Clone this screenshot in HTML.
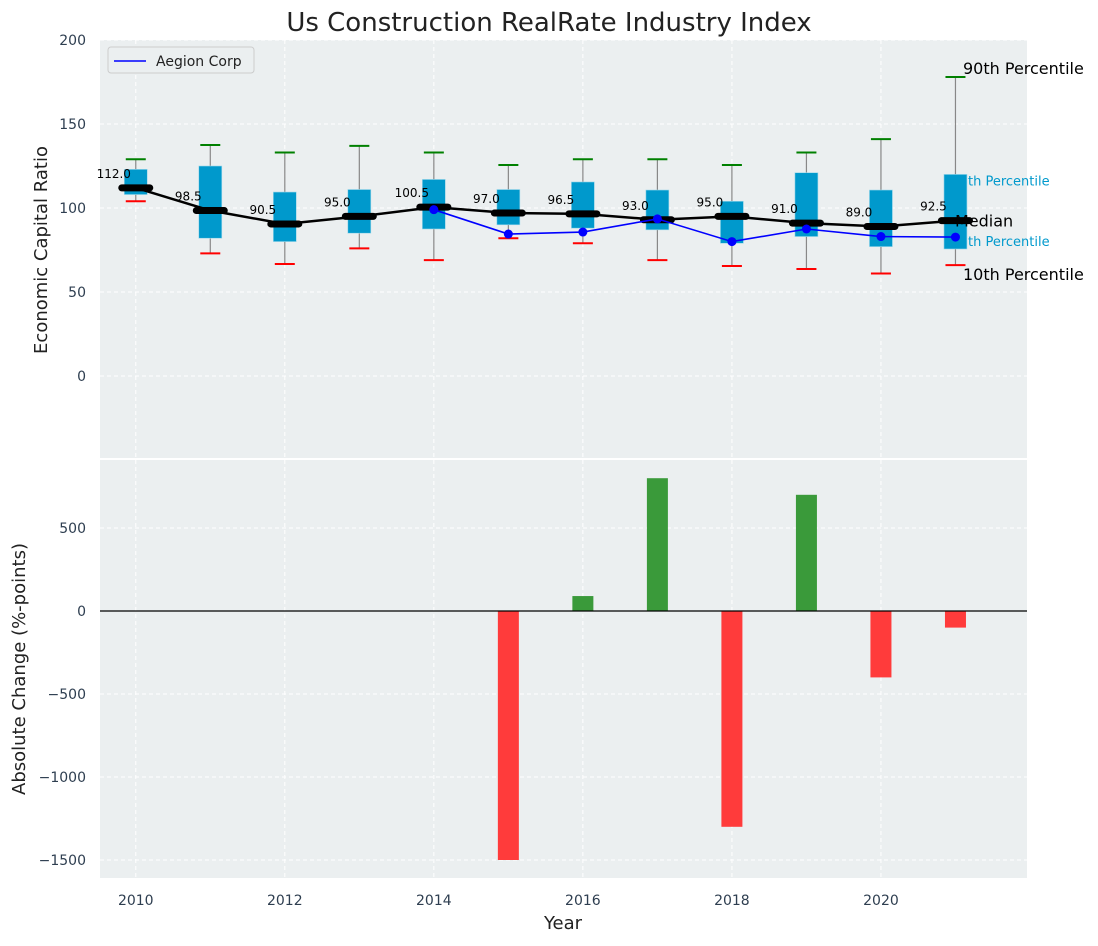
<!DOCTYPE html>
<html><head><meta charset="utf-8"><style>
body{margin:0;background:#fff;font-family:"DejaVu Sans","Liberation Sans",sans-serif;}
svg text{font-family:"DejaVu Sans","Liberation Sans",sans-serif;}
</style></head><body>
<svg id="c" width="1098" height="942" xmlns="http://www.w3.org/2000/svg"></svg>
<script>
const years=[2010,2011,2012,2013,2014,2015,2016,2017,2018,2019,2020,2021];
const p90=[129,137.5,133,137,133,125.6,129,129,125.6,133,141,178];
const q3=[123,125,109.5,111,117,111,115.5,110.7,104,121,110.7,120];
const medians=[112,98.5,90.5,95,100.5,97,96.5,93,95,91,89,92.5];
const q1=[108,82,80,85,87.5,90,88,87,79,83,77,75.6];
const p10=[104,73,66.7,76,69,82,79,69,65.5,63.7,61,66];
const aegionYears=[2014,2015,2016,2017,2018,2019,2020,2021];
const aegion=[99,84.5,85.7,93.5,80,87.5,83,82.7];
const changes=[0,0,0,0,0,-1500,90,800,-1300,700,-400,-100];
const topTicks=[0,50,100,150,200];
const botTicks=[-1500,-1000,-500,0,500];
const xTicks=[2010,2012,2014,2016,2018,2020];

const NS="http://www.w3.org/2000/svg";
const svg=document.getElementById('c');
function el(t,a,p){const e=document.createElementNS(NS,t);for(const k in a)e.setAttribute(k,a[k]);(p||svg).appendChild(e);return e;}
const L=100,R=1027;
const x=v=>L+(v-2009.52)*(R-L)/(2021.96-2009.52);
const yT=v=>376-v*1.68;
const yB=v=>611-v*0.166;

let e=el('rect',{x:L,y:40,width:R-L,height:418,fill:'#ebeff0'});

e=el('rect',{x:L,y:460,width:R-L,height:418,fill:'#ebeff0'});


xTicks.forEach(t=>{
  el('line',{x1:x(t),x2:x(t),y1:40,y2:458,stroke:'#fff','stroke-dasharray':'4,3','stroke-width':1});
  el('line',{x1:x(t),x2:x(t),y1:460,y2:878,stroke:'#fff','stroke-dasharray':'4,3','stroke-width':1});
  e=el('text',{x:x(t),y:905,'text-anchor':'middle','font-size':14,fill:'#2e3e50'});e.textContent=t;
  
});
topTicks.forEach(t=>{
  el('line',{x1:L,x2:R,y1:yT(t),y2:yT(t),stroke:'#fff','stroke-dasharray':'4,3'});
  e=el('text',{x:86,y:yT(t)+5,'text-anchor':'end','font-size':14,fill:'#2e3e50'});e.textContent=t;
  
});
botTicks.forEach(t=>{
  el('line',{x1:L,x2:R,y1:yB(t),y2:yB(t),stroke:'#fff','stroke-dasharray':'4,3'});
  e=el('text',{x:86,y:yB(t)+5,'text-anchor':'end','font-size':14,fill:'#2e3e50'});e.textContent=t.toString().replace('-','−');
  
});

const last=years.length-1;
e=el('text',{x:x(years[last])-4,y:yT(q3[last])+11,'font-size':13,fill:'#0099cc'});e.textContent='75th Percentile';

e=el('text',{x:x(years[last])-4,y:yT(q1[last])-3,'font-size':13,fill:'#0099cc'});e.textContent='25th Percentile';


years.forEach((yr,i)=>{
  const cx=x(yr);
  el('line',{x1:cx,x2:cx,y1:yT(p90[i]),y2:yT(p10[i]),stroke:'#888','stroke-width':1.2});
  e=el('rect',{x:cx-11.5,y:yT(q3[i]),width:23,height:yT(q1[i])-yT(q3[i]),fill:'#0099cc',stroke:'#9ed8ea','stroke-width':0.6});
  
  el('line',{x1:cx-10,x2:cx+10,y1:yT(p90[i]),y2:yT(p90[i]),stroke:'#008000','stroke-width':2});
  el('line',{x1:cx-10,x2:cx+10,y1:yT(p10[i]),y2:yT(p10[i]),stroke:'#ff0000','stroke-width':2});
});
e=el('polyline',{points:years.map((yr,i)=>x(yr)+','+yT(medians[i])).join(' '),fill:'none',stroke:'#000','stroke-width':2.5});

years.forEach((yr,i)=>{
  e=el('line',{x1:x(yr)-14,x2:x(yr)+14,y1:yT(medians[i]),y2:yT(medians[i]),stroke:'#000','stroke-width':7,'stroke-linecap':'round'});
  
  e=el('text',{x:x(yr)-22,y:yT(medians[i])-10,'text-anchor':'middle','font-size':12,fill:'#000'});e.textContent=medians[i].toFixed(1);
  
});
e=el('polyline',{points:aegionYears.map((yr,i)=>x(yr)+','+yT(aegion[i])).join(' '),fill:'none',stroke:'#0000ff','stroke-width':1.6});

aegionYears.forEach((yr,i)=>{
  e=el('circle',{cx:x(yr),cy:yT(aegion[i]),r:4.5,fill:'#0000ff'});
  
});
[['90th Percentile',yT(p90[last])-3,'p90-annotation',963],['Median',yT(medians[last])+6,'median-annotation',955],['10th Percentile',yT(p10[last])+15,'p10-annotation',963]].forEach(a=>{
  e=el('text',{x:a[3],y:a[1],'font-size':16,fill:'#000'});e.textContent=a[0];
  
});

years.forEach((yr,i)=>{
  const v=changes[i];if(v===0)return;
  const y0=yB(0),y1=yB(v);
  e=el('rect',{x:x(yr)-10.5,y:Math.min(y0,y1),width:21,height:Math.abs(y1-y0),fill:v>0?'#3a9a3a':'#ff3b3b'});
  
});
e=el('line',{x1:L,x2:R,y1:yB(0),y2:yB(0),stroke:'#000','stroke-width':1.2});


const lg=el('g',{});

el('rect',{x:108,y:47,width:146,height:26,rx:3,fill:'#ebeff0',stroke:'#cccccc'},lg);
el('line',{x1:114,x2:146,y1:61,y2:61,stroke:'#0000ff','stroke-width':1.6},lg);
e=el('text',{x:156,y:66,'font-size':14,fill:'#222'},lg);e.textContent='Aegion Corp';


e=el('text',{x:549,y:31,'text-anchor':'middle','font-size':26,fill:'#222'});e.textContent='Us Construction RealRate Industry Index';

e=el('text',{x:563,y:929,'text-anchor':'middle','font-size':18,fill:'#222'});e.textContent='Year';

e=el('text',{x:0,y:0,'text-anchor':'middle','font-size':18,fill:'#222',transform:'translate(47,250) rotate(-90)'});e.textContent='Economic Capital Ratio';

e=el('text',{x:0,y:0,'text-anchor':'middle','font-size':18,fill:'#222',transform:'translate(25,669) rotate(-90)'});e.textContent='Absolute Change (%-points)';

</script>
</body></html>
